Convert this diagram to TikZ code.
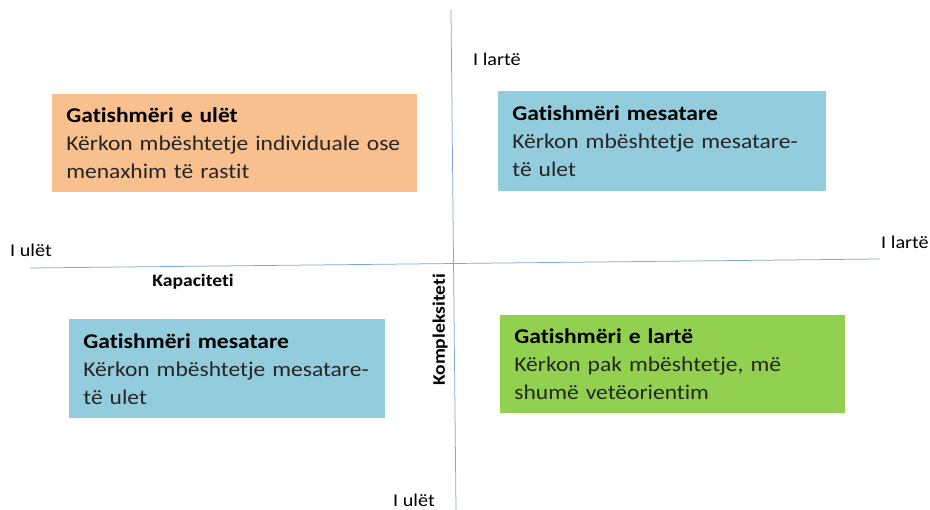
\documentclass[tikz,border=0pt]{standalone}
\usepackage{fontspec}
\setmainfont{Carlito}[Ligatures=NoCommon, FakeStretch=1.12]
\definecolor{boxorange}{HTML}{F9C08F}
\definecolor{boxblue}{HTML}{93CDDD}
\definecolor{boxgreen}{HTML}{92D050}
\definecolor{axisblue}{HTML}{7EA6D8}
\tikzset{every picture/.style={line width=0.75pt}}
\tikzset{
  quadbox/.style={anchor=north west, inner xsep=14pt, inner ysep=0pt, align=left,
    font=\fontsize{21}{28}\selectfont, text=black!85},
  axislabel/.style={font=\fontsize{18}{20}\selectfont},
  axisname/.style={font=\bfseries\fontsize{17.5}{19}\selectfont}
}
\newcommand{\boxtitle}[1]{{\bfseries\color{black}#1}}

\begin{document}
\begin{tikzpicture}[x=1pt,y=1pt,yscale=-1,xscale=1]
        \useasboundingbox (0,0) rectangle (930,510);
        % axes
        \coordinate (capleft) at (30,268);
        \coordinate (capright) at (880,259);
        \coordinate (comptop) at (451,10);
        \coordinate (compbottom) at (456,510);
        \draw [axisblue] (capleft) -- (capright);
        \draw [axisblue] (comptop) -- (compbottom);
        % quadrants
        \node [quadbox, fill=boxorange, text width=337pt, minimum height=98pt] (lowready) at (52,94)
          {\boxtitle{Gatishmëri e ulët}\\Kërkon mbështetje individuale ose\\menaxhim të rastit};
        \node [quadbox, fill=boxblue, text width=300pt, minimum height=100pt] (midreadytop) at (498,91)
          {\boxtitle{Gatishmëri mesatare}\\Kërkon mbështetje mesatare-\\të ulet};
        \node [quadbox, fill=boxblue, text width=288pt, minimum height=99pt] (midreadybottom) at (69,319)
          {\boxtitle{Gatishmëri mesatare}\\Kërkon mbështetje mesatare-\\të ulet};
        \node [quadbox, fill=boxgreen, text width=317pt, minimum height=98pt] (highready) at (500,315)
          {\boxtitle{Gatishmëri e lartë}\\Kërkon pak mbështetje, më\\shumë vetëorientim};
        % axis labels
        \node [axislabel] (comphigh) at (497,59) {I lartë};
        \node [axislabel] (caplow) at (31,250) {I ulët};
        \node [axislabel] (caphigh) at (905,242) {I lartë};
        \node [axislabel] (complow) at (414,500) {I ulët};
        \node [axisname] (capname) at (193,282) {Kapaciteti};
        \node [axisname, rotate=90] (compname) at (440,330) {Kompleksiteti};
\end{tikzpicture}
\end{document}
